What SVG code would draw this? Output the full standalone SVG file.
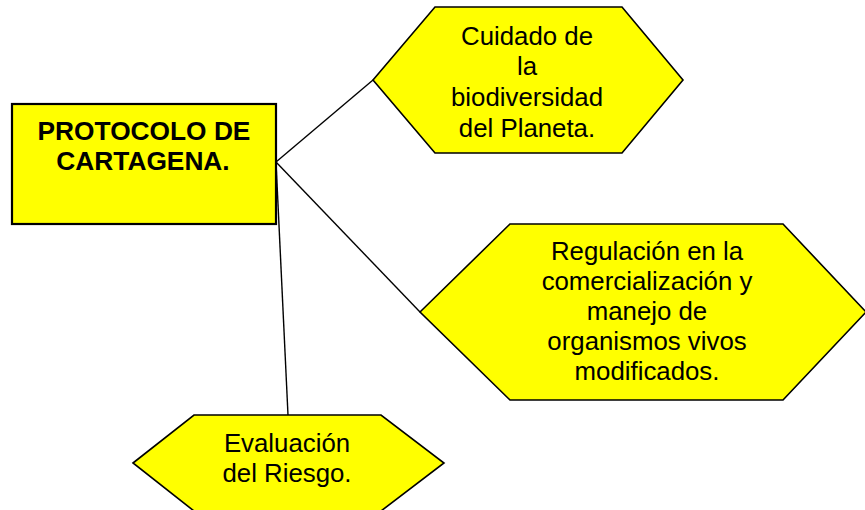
<svg xmlns="http://www.w3.org/2000/svg" width="865" height="510" viewBox="0 0 865 510">
<style>
.shape{fill:#ffff00;stroke:#000;stroke-width:1.6}
.box{fill:#ffff00;stroke:#000;stroke-width:2.2}
.conn{stroke:#000;stroke-width:1.4;fill:none}
.t{font-family:"Liberation Sans",Arial,sans-serif;font-size:25.8px;fill:#000;text-anchor:middle}
.b{font-weight:bold;font-size:26.3px}
</style>
<rect width="865" height="510" fill="#fff"/>
<g id="connectors">
<line class="conn" x1="276" y1="162" x2="373" y2="80"/>
<line class="conn" x1="276" y1="162" x2="420" y2="312"/>
<line class="conn" x1="276" y1="162" x2="288" y2="415"/>
</g>
<g id="protocolo">
<rect class="box" x="12" y="104" width="264" height="120"/>
<text class="t b" x="144" y="139.5">PROTOCOLO DE</text>
<text class="t b" x="143" y="170">CARTAGENA.</text>
</g>
<g id="cuidado">
<polygon class="shape" points="373,80 435,7 622,7 683,80 622,153 435,153"/>
<text class="t" x="527" y="44.5">Cuidado de</text>
<text class="t" x="527" y="75.3">la</text>
<text class="t" x="527" y="106">biodiversidad</text>
<text class="t" x="527" y="136.8">del Planeta.</text>
</g>
<g id="regulacion">
<polygon class="shape" points="420,312 510,224 783,224 866,312 783,400 510,400"/>
<text class="t" x="647" y="259.5">Regulación en la</text>
<text class="t" x="647" y="289.7">comercialización y</text>
<text class="t" x="647" y="319.9">manejo de</text>
<text class="t" x="647" y="350.1">organismos vivos</text>
<text class="t" x="647" y="380.3">modificados.</text>
</g>
<g id="evaluacion">
<polygon class="shape" points="133,463 194,415 381,415 444,463 381,511 194,511"/>
<text class="t" x="287" y="451.7">Evaluación</text>
<text class="t" x="287" y="481.7">del Riesgo.</text>
</g>
</svg>
